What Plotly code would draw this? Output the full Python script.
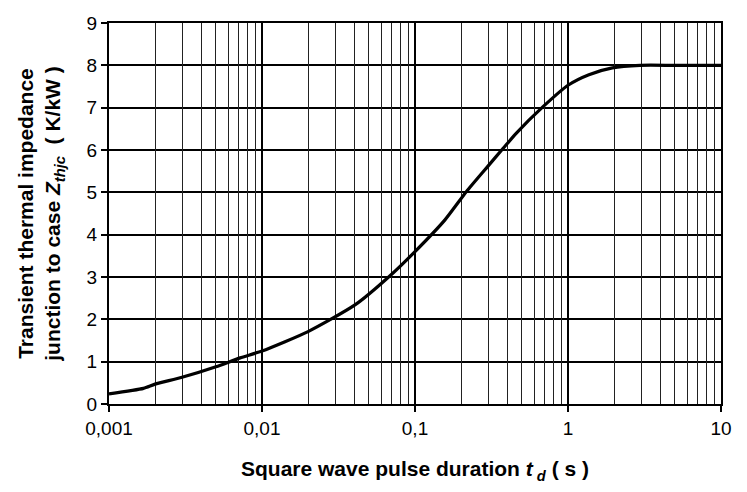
import plotly.graph_objects as go
import math

# Data
t_d = [0.001, 0.00168, 0.002, 0.003, 0.005, 0.0072, 0.01, 0.02, 0.0405, 0.0687,
       0.1, 0.157, 0.217, 0.3, 0.377, 0.46, 0.69, 1.0, 1.37, 1.95, 2.96, 5.0, 10.0]
z_thjc = [0.24, 0.37, 0.47, 0.63, 0.88, 1.09, 1.25, 1.71, 2.34, 3.03,
          3.6, 4.35, 5.02, 5.62, 6.04, 6.4, 7.03, 7.53, 7.78, 7.94, 8.0, 8.0, 8.0]

major_ticks = [0.001, 0.01, 0.1, 1, 10]
major_text = ["0,001", "0,01", "0,1", "1", "10"]
minor_mult = [2, 3, 4, 5, 6, 7, 8, 9]
y_ticks = [0, 1, 2, 3, 4, 5, 6, 7, 8, 9]

minor_ticks = [d * m for d in major_ticks[:-1] for m in minor_mult]

FONT = "Liberation Sans, Arial, sans-serif"

fig = go.Figure()
fig.add_trace(go.Scatter(x=t_d, y=z_thjc, mode="lines",
                         line=dict(color="black", width=3.2, shape="spline", smoothing=0.6),
                         showlegend=False, hoverinfo="skip"))
# invisible trace on overlay axis so it renders
fig.add_trace(go.Scatter(x=[0.001, 10], y=[0, 0], xaxis="x2", mode="lines",
                         line=dict(width=0), showlegend=False, hoverinfo="skip"))

xr = [math.log10(0.001), math.log10(10)]

fig.update_layout(
    width=747, height=492,
    margin=dict(l=109, r=26, t=23, b=88),
    paper_bgcolor="white", plot_bgcolor="white",
    font=dict(family=FONT, color="black", size=19),
    xaxis=dict(type="log", range=xr, tickvals=major_ticks, ticktext=major_text,
               showgrid=True, gridcolor="black", gridwidth=2,
               showline=True, linecolor="black", linewidth=2, mirror=True,
               ticks="outside", ticklen=6, tickcolor="black", tickwidth=2,
               tickfont=dict(size=19, family=FONT),
               title=dict(text="<b>Square wave pulse duration <i>t</i><sub><i> d</i></sub> ( s )</b>",
                          font=dict(size=21, family=FONT), standoff=24),
               zeroline=False),
    xaxis2=dict(type="log", range=xr, overlaying="x", tickvals=minor_ticks,
                showticklabels=False, showgrid=True, gridcolor="#222222", gridwidth=1,
                showline=False, ticks="", zeroline=False),
    yaxis=dict(range=[0, 9], tickvals=y_ticks,
               showgrid=True, gridcolor="black", gridwidth=1.5,
               showline=True, linecolor="black", linewidth=2, mirror=True,
               ticks="outside", ticklen=6, tickcolor="black", tickwidth=2,
               tickfont=dict(size=19, family=FONT),
               title=dict(text="<b>Transient thermal impedance<br>junction to case <i>Z<sub>thjc</sub></i>  ( K/kW )</b>",
                          font=dict(size=21, family=FONT), standoff=20),
               zeroline=False),
)

fig.write_html("out.html")
